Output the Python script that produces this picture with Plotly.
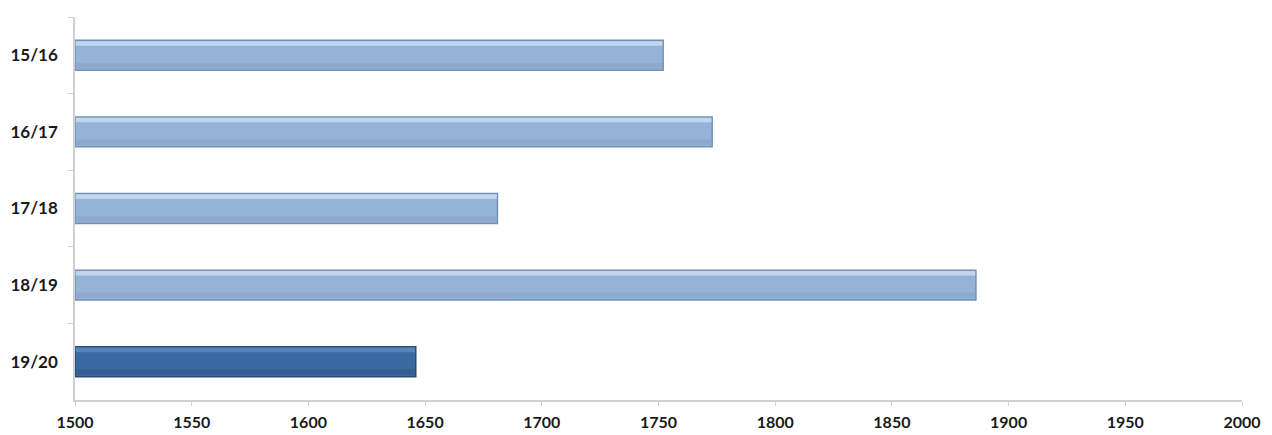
import plotly.graph_objects as go

seasons = ["15/16", "16/17", "17/18", "18/19", "19/20"]
values = [1752, 1773, 1681, 1886, 1646]
bar_colors = ["#95B3D7", "#95B3D7", "#95B3D7", "#95B3D7", "#3A68A0"]
edge_colors = ["#7391B8", "#7391B8", "#7391B8", "#7391B8", "#2A4C75"]
highlight_colors = ["#C9DCF2", "#C9DCF2", "#C9DCF2", "#C9DCF2", "#5E8AC0"]
shadow_colors = ["#8AA3C4", "#8AA3C4", "#8AA3C4", "#8AA3C4", "#31598A"]
x_ticks = [1500, 1550, 1600, 1650, 1700, 1750, 1800, 1850, 1900, 1950, 2000]

base = x_ticks[0]
lengths = [v - base for v in values]

fig = go.Figure()
fig.add_trace(go.Bar(
    y=seasons, x=lengths, base=base, orientation="h", width=0.39,
    marker=dict(color=bar_colors, line=dict(color=edge_colors, width=1.5)),
    hoverinfo="skip", showlegend=False,
))
# top highlight strip for the glossy look
fig.add_trace(go.Bar(
    y=seasons, x=[l - 0.6 for l in lengths], base=base + 0.3, orientation="h",
    width=0.06, offset=-0.185,
    marker=dict(color=highlight_colors, line=dict(width=0)),
    opacity=0.85, hoverinfo="skip", showlegend=False,
))
# lower shade strip
fig.add_trace(go.Bar(
    y=seasons, x=[l - 0.6 for l in lengths], base=base + 0.3, orientation="h",
    width=0.07, offset=0.1,
    marker=dict(color=shadow_colors, line=dict(width=0)),
    opacity=0.6, hoverinfo="skip", showlegend=False,
))

tick_font = dict(family="Lato, 'Open Sans', sans-serif", size=16, color="#1a1a1a", weight="bold")
ytick_font = dict(family="Lato, 'Open Sans', sans-serif", size=17, color="#1a1a1a", weight="bold")

fig.update_layout(
    width=1272, height=435,
    margin=dict(l=75, r=30, t=17, b=35),
    paper_bgcolor="white", plot_bgcolor="white",
    barmode="overlay",
    font=dict(family="Lato, 'Open Sans', sans-serif", size=17, color="#1a1a1a"),
)
fig.update_xaxes(
    range=[1500, 2000], tickvals=x_ticks, ticktext=[str(t) for t in x_ticks],
    showgrid=False, zeroline=False, automargin=False,
    showline=True, linecolor="#D0D0D0", linewidth=1.5,
    ticks="outside", ticklen=4, tickcolor="#D0D0D0",
    ticklabelstandoff=3,
    tickfont=tick_font,
)
fig.update_yaxes(
    categoryorder="array", categoryarray=seasons, autorange="reversed",
    showgrid=False, zeroline=False, automargin=False,
    showline=True, linecolor="#D0D0D0", linewidth=1.5,
    ticks="outside", ticklen=5, tickcolor="#D0D0D0", tickson="boundaries",
    ticklabelstandoff=12,
    tickfont=ytick_font,
)

fig.write_html("out.html")
